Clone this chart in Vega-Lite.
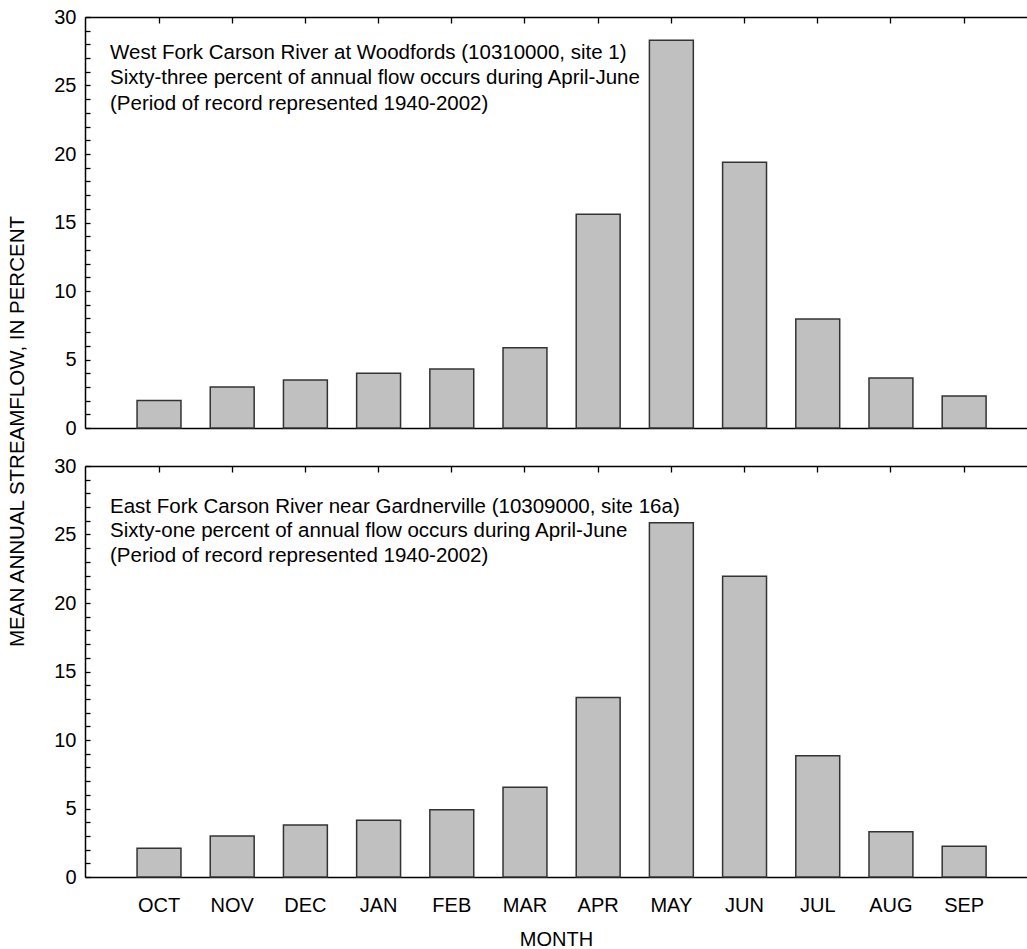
{
  "$schema": "https://vega.github.io/schema/vega-lite/v6.json",
  "padding": {"left": 7, "right": 0, "top": 7, "bottom": 0},
  "background": "white",
  "config": {
    "view": {"stroke": null},
    "font": "Liberation Sans",
    "concat": {"spacing": 38},
    "axis": {"domainColor": "#000", "domainWidth": 1.5, "tickColor": "#000", "tickWidth": 1.3, "labelColor": "#000", "titleColor": "#000", "labelFont": "Liberation Sans", "titleFont": "Liberation Sans", "grid": false}
  },
  "bounds": "flush",
  "data": {"values": [
    {"panel": "top", "month": "OCT", "pct": 2.0},
    {"panel": "top", "month": "NOV", "pct": 3.0},
    {"panel": "top", "month": "DEC", "pct": 3.5},
    {"panel": "top", "month": "JAN", "pct": 4.0},
    {"panel": "top", "month": "FEB", "pct": 4.3},
    {"panel": "top", "month": "MAR", "pct": 5.85},
    {"panel": "top", "month": "APR", "pct": 15.6},
    {"panel": "top", "month": "MAY", "pct": 28.3},
    {"panel": "top", "month": "JUN", "pct": 19.4},
    {"panel": "top", "month": "JUL", "pct": 7.95},
    {"panel": "top", "month": "AUG", "pct": 3.65},
    {"panel": "top", "month": "SEP", "pct": 2.33},
    {"panel": "bottom", "month": "OCT", "pct": 2.1},
    {"panel": "bottom", "month": "NOV", "pct": 3.0},
    {"panel": "bottom", "month": "DEC", "pct": 3.8},
    {"panel": "bottom", "month": "JAN", "pct": 4.15},
    {"panel": "bottom", "month": "FEB", "pct": 4.9},
    {"panel": "bottom", "month": "MAR", "pct": 6.55},
    {"panel": "bottom", "month": "APR", "pct": 13.1},
    {"panel": "bottom", "month": "MAY", "pct": 25.85},
    {"panel": "bottom", "month": "JUN", "pct": 21.95},
    {"panel": "bottom", "month": "JUL", "pct": 8.85},
    {"panel": "bottom", "month": "AUG", "pct": 3.3},
    {"panel": "bottom", "month": "SEP", "pct": 2.25}
  ]},
  "vconcat": [
    {
      "width": 942,
      "height": 411,
      "title": {
        "text": ["West Fork Carson River at Woodfords (10310000, site 1)", "Sixty-three percent of annual flow occurs during April-June", "(Period of record represented 1940-2002)"],
        "anchor": "start", "frame": "group", "baseline": "top", "offset": 0, "dx": 25, "dy": 107,
        "fontSize": 20.5, "fontWeight": "normal", "lineHeight": 25.5, "color": "#000", "font": "Liberation Sans"
      },
      "transform": [{"filter": "datum.panel === 'top'"}],
      "encoding": {
        "y": {"field": "pct", "type": "quantitative",
          "scale": {"domain": [0, 30], "nice": false},
          "axis": {"values": [0,1,2,3,4,5,6,7,8,9,10,11,12,13,14,15,16,17,18,19,20,21,22,23,24,25,26,27,28,29,30],
            "labelExpr": "datum.value % 5 === 0 ? datum.label : ''", "labelOverlap": false,
            "tickSize": -5, "labelPadding": 14, "labelFontSize": 20,
            "title": "MEAN ANNUAL STREAMFLOW, IN PERCENT", "titleFontSize": 20.5, "titleFontWeight": "normal",
            "titleY": 414, "titleAlign": "center", "titleAngle": 270, "titleBaseline": "bottom", "titlePadding": 26}}
      },
      "layer": [
        {
          "mark": {"type": "bar", "fill": "#c0c0c0", "stroke": "#333", "strokeWidth": 1.5},
          "encoding": {
            "x": {"field": "month", "type": "nominal", "sort": null,
              "scale": {"type": "band", "paddingInner": 0.4, "paddingOuter": 0.635, "align": 0.56},
              "axis": {"orient": "bottom", "labels": false, "ticks": false, "title": null, "domain": true}}
          }
        },
        {
          "mark": {"type": "bar", "opacity": 0},
          "encoding": {
            "x": {"field": "month", "type": "nominal", "sort": null,
              "axis": {"orient": "top", "labels": false, "ticks": true, "tickSize": -6, "title": null, "domain": true}}
          }
        }
      ],
      "resolve": {"axis": {"x": "independent"}}
    },
    {
      "width": 942,
      "height": 411,
      "title": {
        "text": ["East Fork Carson River near Gardnerville (10309000, site 16a)", "Sixty-one percent of annual flow occurs during April-June", "(Period of record represented 1940-2002)"],
        "anchor": "start", "frame": "group", "baseline": "top", "offset": 0, "dx": 25, "dy": 110,
        "fontSize": 20.5, "fontWeight": "normal", "lineHeight": 24.5, "color": "#000", "font": "Liberation Sans"
      },
      "transform": [{"filter": "datum.panel === 'bottom'"}],
      "encoding": {
        "y": {"field": "pct", "type": "quantitative",
          "scale": {"domain": [0, 30], "nice": false},
          "axis": {"values": [0,1,2,3,4,5,6,7,8,9,10,11,12,13,14,15,16,17,18,19,20,21,22,23,24,25,26,27,28,29,30],
            "labelExpr": "datum.value % 5 === 0 ? datum.label : ''", "labelOverlap": false,
            "tickSize": -5, "labelPadding": 14, "labelFontSize": 20, "title": null}}
      },
      "layer": [
        {
          "mark": {"type": "bar", "fill": "#c0c0c0", "stroke": "#333", "strokeWidth": 1.5},
          "encoding": {
            "x": {"field": "month", "type": "nominal", "sort": null,
              "scale": {"type": "band", "paddingInner": 0.4, "paddingOuter": 0.635, "align": 0.56},
              "axis": {"orient": "bottom", "labels": true, "ticks": false, "labelAngle": 0, "labelPadding": 18, "labelFontSize": 20,
                "title": "MONTH", "titleFontSize": 20, "titleFontWeight": "normal", "titlePadding": 14, "domain": true}}
          }
        },
        {
          "mark": {"type": "bar", "opacity": 0},
          "encoding": {
            "x": {"field": "month", "type": "nominal", "sort": null,
              "axis": {"orient": "top", "labels": false, "ticks": true, "tickSize": -6, "title": null, "domain": true}}
          }
        }
      ],
      "resolve": {"axis": {"x": "independent"}}
    }
  ]
}
